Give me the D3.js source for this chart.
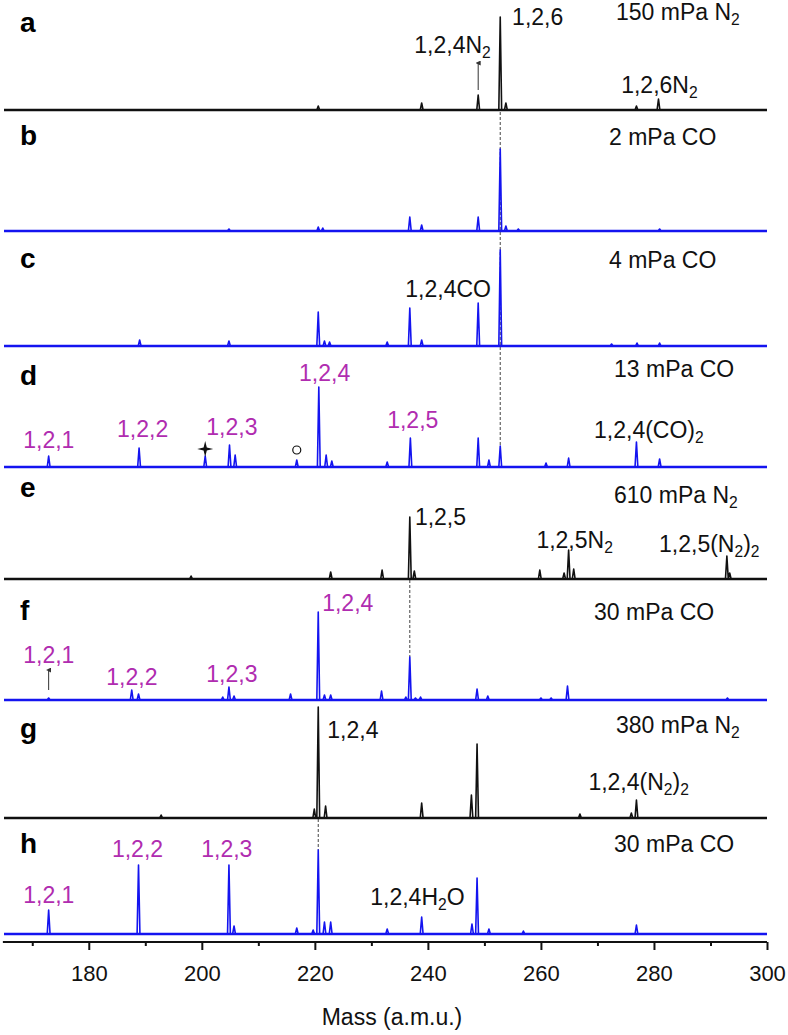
<!DOCTYPE html>
<html>
<head>
<meta charset="utf-8">
<script src="https://cdn.jsdelivr.net/npm/d3@7"></script>
<style>
  body { margin: 0; background: #fff; }
  text { font-family: "Liberation Sans", Arial, sans-serif; }
</style>
</head>
<body>
<div id="canvas"></div>
<script>
"use strict";

let svgWidth = 788;
let svgHeight = 1035;

/* Data */
let panelIds = ["a", "b", "c", "d", "e", "f", "g", "h"];
let conditions = ["150 mPa N_2", "2 mPa CO", "4 mPa CO", "13 mPa CO",
                  "610 mPa N_2", "30 mPa CO", "380 mPa N_2", "30 mPa CO"];
let gasType = ["N2", "CO", "CO", "CO", "N2", "CO", "N2", "CO"];

// [mass, intensity] for each spectrum
let peaksA = [[220.6, 4], [238.9, 7], [248.9, 15], [252.8, 93], [253.8, 7], [276.9, 4], [280.8, 11]];
let peaksB = [[204.8, 2], [220.6, 4], [221.4, 3], [236.8, 14], [238.9, 6], [248.9, 14], [252.8, 82],
              [253.8, 5], [256.0, 2], [281.0, 2]];
let peaksC = [[189.0, 6], [204.8, 5], [220.6, 34], [221.7, 5], [222.6, 4], [232.8, 4], [236.8, 38],
              [238.9, 6], [248.9, 43], [252.8, 96], [272.5, 2], [277.0, 3], [281.0, 3]];
let peaksD = [[172.9, 11], [188.9, 19], [200.6, 11], [204.9, 22], [205.9, 12], [216.8, 7], [220.7, 80],
              [222.0, 12], [223.0, 6], [232.8, 5], [236.9, 29], [248.9, 29], [250.8, 7], [252.8, 21],
              [260.9, 4], [264.9, 9], [276.9, 25], [281.0, 8]];
let peaksE = [[198.1, 3], [222.8, 7], [231.9, 9], [236.8, 62], [237.6, 8], [259.8, 9], [264.1, 6],
              [264.9, 29], [265.8, 10], [292.9, 23], [293.4, 6]];
let peaksF = [[172.9, 2], [187.6, 10], [188.8, 6], [203.7, 3], [204.8, 13], [205.7, 4], [215.7, 6],
              [220.6, 88], [221.7, 5], [222.8, 5], [231.8, 9], [236.1, 3], [236.8, 43], [237.8, 2],
              [238.7, 3], [248.7, 11], [250.6, 4], [260.0, 2], [261.8, 2], [264.7, 14], [293.0, 2]];
let peaksG = [[192.8, 3], [219.9, 9], [220.6, 111], [221.9, 12], [238.9, 15], [247.7, 23], [248.7, 74],
              [266.9, 4], [276.0, 5], [276.9, 18]];
let peaksH = [[172.9, 24], [188.8, 69], [204.8, 69], [205.7, 8], [216.8, 6], [219.7, 4], [220.6, 84],
              [221.7, 12], [222.8, 12], [232.8, 5], [238.9, 17], [247.8, 10], [248.7, 56], [250.8, 5],
              [256.9, 3], [276.9, 9]];
let spectra = [peaksA, peaksB, peaksC, peaksD, peaksE, peaksF, peaksG, peaksH];

// peak annotations: panel index, text, mass at text start, height above baseline, cluster label?
let annotations = [
  [0, "1,2,6", 254.9, 85, false], [0, "1,2,4N_2", 237.6, 57, false], [0, "1,2,6N_2", 274.2, 17, false],
  [2, "1,2,4CO", 236.0, 49, false],
  [3, "1,2,1", 168.4, 19, true], [3, "1,2,2", 185.0, 30, true], [3, "1,2,3", 200.8, 32, true],
  [3, "1,2,4", 217.2, 86, true], [3, "1,2,5", 232.8, 39, true], [3, "1,2,4(CO)_2", 269.4, 29, false],
  [4, "1,2,5", 237.7, 54, false], [4, "1,2,5N_2", 259.2, 31, false], [4, "1,2,5(N_2)_2", 280.9, 27, false],
  [5, "1,2,1", 168.4, 37, true], [5, "1,2,2", 183.1, 15, true], [5, "1,2,3", 200.8, 18, true],
  [5, "1,2,4", 221.3, 89, true],
  [6, "1,2,4", 222.2, 80, false], [6, "1,2,4(N_2)_2", 268.4, 28, false],
  [7, "1,2,1", 168.4, 31, true], [7, "1,2,2", 184.1, 77, true], [7, "1,2,3", 199.9, 77, true],
  [7, "1,2,4H_2O", 229.8, 29, false]
];

// arrows: panel, mass, from, to
let arrows = [[0, 248.9, 20, 47], [5, 172.9, 10, 30]];

// dashed guides: mass, top panel, top level, bottom panel, bottom level
let guides = [[252.8, 0, -2, 3, 21], [236.8, 4, -1, 5, 43], [220.6, 6, -1, 7, 84]];

let xTicks = [170, 180, 190, 200, 210, 220, 230, 240, 250, 260, 270, 280, 290, 300];

/* Layout */
let baseY = [110, 231, 346, 467, 579, 700, 818, 934];
let letterY = [32, 145, 268, 385, 497, 620, 738, 853];
let condX = [616, 609, 609, 614, 614, 594, 616, 614];
let condY = [20, 145, 268, 377, 503, 620, 733, 852];
let axisY = 942;
let labelSize = 23;

let colorMap = { N2: "#111", CO: "#1414f0" };
let clusterColor = "#b02cb0";

let svg = d3.select("#canvas")
  .append("svg")
  .attr("width", svgWidth)
  .attr("height", svgHeight);

/* Scales */
let xScale = d3.scaleLinear().domain([165, 300]).range([4, 767]);
let yScale = d3.scaleLinear().domain([0, 100]).range([0, 100]);

function yAt(panel, level) {
  return baseY[panel] - yScale(level);
}

/* text helper, subscripts written as _2 */
function addText(g, x, y, str, size, color, weight) {
  let t = g.append("text")
    .attr("x", x)
    .attr("y", y)
    .attr("font-size", size + "px")
    .attr("font-weight", weight || "normal")
    .attr("fill", color);
  let parts = str.split(/_(\d)/);
  let shift = 0;
  parts.forEach((p, i) => {
    if (p === "") return;
    let ts = t.append("tspan");
    if (i % 2 === 1) {
      ts.attr("font-size", (size * 0.68) + "px").attr("dy", 5 - shift);
      shift = 5;
    } else {
      if (shift) ts.attr("dy", -shift);
      shift = 0;
    }
    ts.text(p);
  });
  return t;
}

/* Dashed guides */
guides.forEach(gd => {
  svg.append("line")
    .attr("x1", xScale(gd[0])).attr("x2", xScale(gd[0]))
    .attr("y1", yAt(gd[1], gd[2])).attr("y2", yAt(gd[3], gd[4]))
    .attr("stroke", "#444")
    .attr("stroke-width", 1)
    .attr("stroke-dasharray", "3,2");
});

/* Spectra */
let line = d3.line()
  .x(d => xScale(d[0]))
  .y(d => d[1]);

spectra.forEach((peaks, p) => {
  let col = colorMap[gasType[p]];
  let g = svg.append("g");

  // baseline noise band
  g.append("line")
    .attr("x1", xScale(165)).attr("x2", xScale(300))
    .attr("y1", yAt(p, 0)).attr("y2", yAt(p, 0))
    .attr("stroke", col)
    .attr("stroke-width", 2.6);

  let pts = [[165, yAt(p, 0)]];
  peaks.slice().sort((a, b) => a[0] - b[0]).forEach(pk => {
    pts.push([pk[0] - 0.25, yAt(p, 0)]);
    pts.push([pk[0], yAt(p, pk[1])]);
    pts.push([pk[0] + 0.25, yAt(p, 0)]);
  });
  pts.push([300, yAt(p, 0)]);

  g.append("path")
    .datum(pts)
    .attr("fill", "none")
    .attr("stroke", col)
    .attr("stroke-width", 1.6)
    .attr("stroke-linejoin", "round")
    .attr("d", line);

  // panel letter
  addText(svg, 20, letterY[p], panelIds[p], 28, "#000", "bold");

  // condition
  addText(svg, condX[p], condY[p], conditions[p], labelSize, "#111");
});

/* Peak labels */
annotations.forEach(a => {
  addText(svg, xScale(a[2]), yAt(a[0], a[3]), a[1], labelSize, a[4] ? clusterColor : "#111");
});

/* Arrows */
svg.append("defs").append("marker")
  .attr("id", "head")
  .attr("viewBox", "0 0 6 6")
  .attr("refX", 3).attr("refY", 3)
  .attr("markerWidth", 5).attr("markerHeight", 5)
  .attr("orient", "auto")
  .append("path")
  .attr("d", "M0,6 L3,0 L6,6 Z")
  .attr("fill", "#333");

arrows.forEach(ar => {
  svg.append("line")
    .attr("x1", xScale(ar[1])).attr("x2", xScale(ar[1]))
    .attr("y1", yAt(ar[0], ar[2])).attr("y2", yAt(ar[0], ar[3]))
    .attr("stroke", "#333")
    .attr("stroke-width", 1)
    .attr("marker-end", "url(#head)");
});

/* Markers in panel d */
svg.append("path")
  .attr("transform", `translate(${xScale(200.6)},${yAt(3, 18)})`)
  .attr("d", "M0,-8 L1.6,-1.6 L8,0 L1.6,1.6 L0,8 L-1.6,1.6 L-8,0 L-1.6,-1.6 Z")
  .attr("fill", "#111");

svg.append("circle")
  .attr("cx", xScale(216.8))
  .attr("cy", yAt(3, 17))
  .attr("r", 4)
  .attr("fill", "#fff")
  .attr("stroke", "#111")
  .attr("stroke-width", 1.2);

/* X axis */
let axis = d3.axisBottom(xScale)
  .tickValues(xTicks)
  .tickSize(8)
  .tickFormat(d => (d % 20 === 0 ? d : ""));

let axisG = svg.append("g")
  .attr("transform", `translate(0,${axisY})`)
  .call(axis);

axisG.select(".domain")
  .attr("d", `M${xScale(164.8)},0H${xScale(300)}`)
  .attr("stroke", "#111")
  .attr("stroke-width", 2.2);

axisG.selectAll(".tick line")
  .attr("stroke", "#111")
  .attr("stroke-width", 2)
  .attr("y2", d => (d % 20 === 0 ? 8 : 4));

axisG.selectAll(".tick text")
  .attr("y", 39)
  .attr("dy", 0)
  .attr("font-size", "22px")
  .attr("font-family", "Liberation Sans, Arial, sans-serif")
  .attr("fill", "#111");

addText(svg, 392, 1025, "Mass (a.m.u.)", 23, "#111")
  .attr("text-anchor", "middle");
</script>
</body>
</html>
